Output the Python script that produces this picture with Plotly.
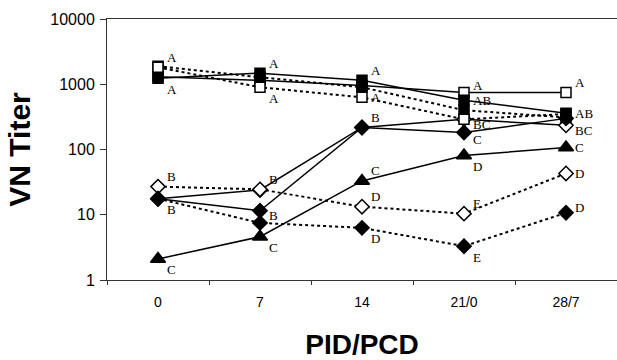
import math
import plotly.graph_objects as go

days = ["0", "7", "14", "21/0", "28/7"]
y_ticks = [1, 10, 100, 1000, 10000]
y_tick_labels = ["1", "10", "100", "1000", "10000"]

# upper (square) series
osq_solid = [1300, 1150, 960, 750, 750]
osq_solid_lbl = ["", "", "", "A", "A"]
fsq_dotted = [1890, 1280, 900, 400, 310]
fsq_dotted_lbl = ["", "", "", "", ""]
osq_dotted = [1820, 900, 630, 290, 350]
osq_dotted_lbl = ["A", "A", "A", "BC", ""]
fsq_solid = [1240, 1480, 1150, 570, 360]
fsq_solid_lbl = ["A", "A", "A", "AB", "AB"]

# lower (diamond / triangle) series
odia_solid = [17.6, 24, 218, 290, 235]
odia_solid_lbl = ["", "", "", "", "BC"]
odia_dotted = [27, 24.5, 13.3, 10.4, 43]
odia_dotted_lbl = ["B", "B", "D", "E", "D"]
fdia_dotted = [17.6, 7.5, 6.3, 3.3, 10.7]
fdia_dotted_lbl = ["", "", "D", "E", "D"]
fdia_solid = [17.6, 11.5, 218, 182, 300]
fdia_solid_lbl = ["B", "B", "B", "C", ""]
tri_solid = [2.1, 4.6, 33, 81, 107]
tri_solid_lbl = ["C", "C", "C", "D", "C"]

# label placement codes: T above, u/t slightly above, M level, b/d slightly below, B below
SHIFT = {"T": 10, "u": 7, "t": 5, "M": 0, "b": -5, "d": -7, "B": -11, "": 0}

series = [
    (odia_solid, odia_solid_lbl, "MMMMb", "diamond", "white", "solid", 11),
    (osq_solid, osq_solid_lbl, "MMMuT", "square", "white", "solid", 10),
    (fsq_dotted, fsq_dotted_lbl, "MMMMM", "square", "black", "dot", 10),
    (osq_dotted, osq_dotted_lbl, "TBMbM", "square", "white", "dot", 10),
    (fsq_solid, fsq_solid_lbl, "BTTMM", "square", "black", "solid", 10),
    (odia_dotted, odia_dotted_lbl, "TTTTM", "diamond", "white", "dot", 11),
    (fdia_dotted, fdia_dotted_lbl, "MMBBt", "diamond", "black", "dot", 11),
    (fdia_solid, fdia_solid_lbl, "BbTdM", "diamond", "black", "solid", 11),
    (tri_solid, tri_solid_lbl, "BBTBM", "triangle-up", "black", "solid", 13),
]

fig = go.Figure()
for vals, lbls, codes, sym, fill, dash, size in series:
    fig.add_trace(go.Scatter(
        x=days, y=vals, mode="lines+markers",
        line=dict(color="black", width=2 if dash == "dot" else 1.5, dash=dash),
        marker=dict(symbol=sym, size=size, color=fill,
                    line=dict(color="black", width=1.5)),
        showlegend=False, cliponaxis=False,
    ))
    for i, (v, lab, c) in enumerate(zip(vals, lbls, codes)):
        if lab:
            fig.add_annotation(
                x=i, y=math.log10(v), text=lab, showarrow=False,
                xanchor="left", yanchor="middle", xshift=7, yshift=SHIFT[c],
                font=dict(family="Liberation Serif", size=13, color="black"),
            )

fig.update_layout(
    width=617, height=360,
    margin=dict(l=107, r=0, t=19, b=80),
    paper_bgcolor="white", plot_bgcolor="white",
    font=dict(family="Liberation Sans", color="black"),
)
fig.update_xaxes(
    type="category", range=[-0.5, 4.5],
    showline=True, linecolor="#333", linewidth=1, mirror=True,
    ticks="outside", ticklen=4, tickcolor="#333", tickson="boundaries",
    showgrid=False, zeroline=False,
    tickfont=dict(size=14), ticklabelstandoff=9,
    title=dict(text="<b>PID/PCD</b>", font=dict(size=28), standoff=32),
)
fig.update_yaxes(
    type="log", range=[0, 4],
    tickvals=y_ticks, ticktext=y_tick_labels,
    showline=True, linecolor="#333", linewidth=1, mirror=True,
    ticks="outside", ticklen=6, tickcolor="#333",
    showgrid=False, zeroline=False,
    tickfont=dict(size=16), ticklabelstandoff=2,
    title=dict(text="<b>VN Titer</b>", font=dict(size=30), standoff=10),
)

fig.write_html("out.html")
